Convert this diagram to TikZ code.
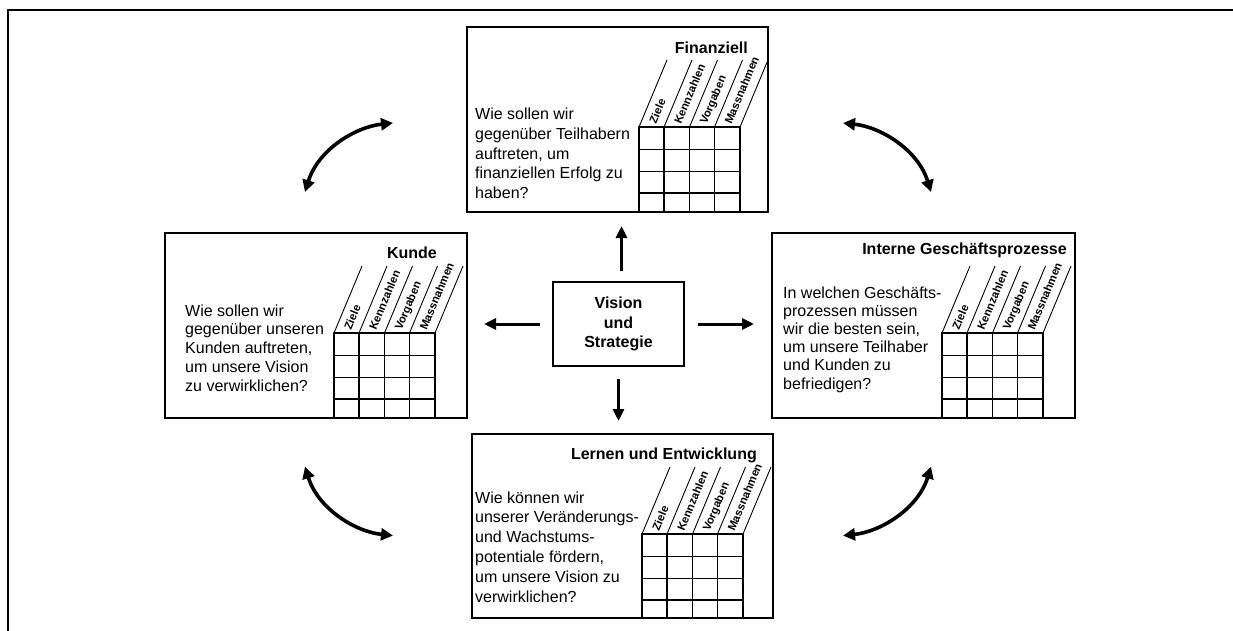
\documentclass[tikz,border=0pt]{standalone}
\usepackage{fontspec}
\setmainfont{Liberation Sans}
\usetikzlibrary{arrows.meta}

% Perspective table: #1 left x, #2 top y, #3 bottom y, #4 name prefix
\newcommand\scorecard[4]{%
  \foreach \dx in {0,25,50.5,75.5,101} {
    \draw[gridline] (#1+\dx,#2) -- (#1+\dx,#3);
    \draw[slant] (#1+\dx,#2) -- (#1+\dx+28,#2-67);
  }
  \foreach \dy in {0,22.5,44.5,66}
    \draw[gridline] (#1,#2+\dy) -- (#1+101,#2+\dy);
  \foreach \k/\dx/\lab in {1/0/Ziele,2/25/Kennzahlen,3/50.5/Vorgaben,4/75.5/Massnahmen}
    \node[collabel] (#4-col\k) at (#1+\dx+17,#2-2) {\lab};
}

\begin{document}
\begin{tikzpicture}[x=1pt,y=-1pt,
  frame/.style={line width=2.2pt},
  panel/.style={draw, line width=1.4pt, inner sep=0pt, outer sep=0pt, anchor=north west},
  gridline/.style={line width=1.5pt, line cap=rect},
  slant/.style={line width=0.9pt},
  collabel/.style={rotate=67.3, anchor=base west, inner sep=0pt,
    font=\bfseries\fontsize{11.3}{11.3}\selectfont},
  heading/.style={anchor=base east, inner sep=0pt,
    font=\bfseries\fontsize{16}{19}\selectfont},
  question/.style={anchor=base west, inner sep=0pt, align=left},
  arr/.style={line width=3pt, -{Triangle[length=12pt,width=11pt]}},
  dbl/.style={line width=3.6pt,
    {Triangle[length=12pt,width=12pt]}-{Triangle[length=12pt,width=12pt]}}
]
\useasboundingbox (0,0) rectangle (1233,631);

% outer frame (open at right and bottom)
\draw[frame] (8,631) -- (8,10) -- (1233,10);

% perspective panels
\node[panel, minimum width=301pt, minimum height=185pt] (fin) at (467,27) {};
\node[panel, minimum width=302pt, minimum height=185pt] (kun) at (165,233) {};
\node[panel, minimum width=303pt, minimum height=185pt] (int) at (772,233) {};
\node[panel, minimum width=301pt, minimum height=184pt] (ler) at (472,434) {};

% central box
\node[panel, minimum width=131pt, minimum height=84pt, anchor=center,
  font=\bfseries\fontsize{16}{19.5}\selectfont, align=center]
  (vis) at (618.5,324) {Vision\\und\\Strategie};

% headings
\node[heading] (fin-head) at (748,54) {Finanziell};
\node[heading] (kun-head) at (437,258) {Kunde};
\node[heading] (int-head) at (1067,254) {Interne Geschäftsprozesse};
\node[heading] (ler-head) at (757,459) {Lernen und Entwicklung};

% questions (anchored at the baseline of the last line)
\node[question, font=\fontsize{16}{19.6}\selectfont] (fin-q) at (475,198.4)
  {Wie sollen wir\\gegenüber Teilhabern\\auftreten, um\\finanziellen Erfolg zu\\haben?};
\node[question, font=\fontsize{16}{18.8}\selectfont] (kun-q) at (185,391.2)
  {Wie sollen wir\\gegenüber unseren\\Kunden auftreten,\\um unsere Vision\\zu verwirklichen?};
\node[question, font=\fontsize{16}{18.2}\selectfont] (int-q) at (783,389)
  {In welchen Geschäfts-\\prozessen müssen\\wir die besten sein,\\um unsere Teilhaber\\und Kunden zu\\befriedigen?};
\node[question, font=\fontsize{16}{19.8}\selectfont] (ler-q) at (475,602)
  {Wie können wir\\unserer Veränderungs-\\und Wachstums-\\potentiale fördern,\\um unsere Vision zu\\verwirklichen?};

% tables
\scorecard{639}{127}{212}{fin}
\scorecard{334}{333}{418}{kun}
\scorecard{942}{333}{418}{int}
\scorecard{642}{534}{618}{ler}

% arrows from the centre
\draw[arr, shorten <=11pt, shorten >=14pt]
  ([xshift=3pt]vis.north) -- ([xshift=3pt]vis.north |- fin.south);
\draw[arr, shorten <=13pt, shorten >=13pt]
  (vis.south) -- (vis.south |- ler.north);
\draw[arr, shorten <=13pt, shorten >=17pt]
  (vis.west) -- (vis.west -| kun.east);
\draw[arr, shorten <=14pt, shorten >=18pt]
  (vis.east) -- (vis.east -| int.west);

% curved double arrows between neighbouring perspectives
\coordinate (tl-a) at (305,192);  \coordinate (tl-b) at (393,123);
\coordinate (tr-a) at (931,192);  \coordinate (tr-b) at (843,123);
\coordinate (bl-a) at (305,466.6); \coordinate (bl-b) at (393,535.6);
\coordinate (br-a) at (931,466.6); \coordinate (br-b) at (843,535.6);
\draw[dbl] (tl-a) .. controls (318,150) and (355,127) .. (tl-b);
\draw[dbl] (tr-a) .. controls (918,150) and (881,127) .. (tr-b);
\draw[dbl] (bl-a) .. controls (318,508.6) and (355,531.6) .. (bl-b);
\draw[dbl] (br-a) .. controls (918,508.6) and (881,531.6) .. (br-b);
\end{tikzpicture}
\end{document}
